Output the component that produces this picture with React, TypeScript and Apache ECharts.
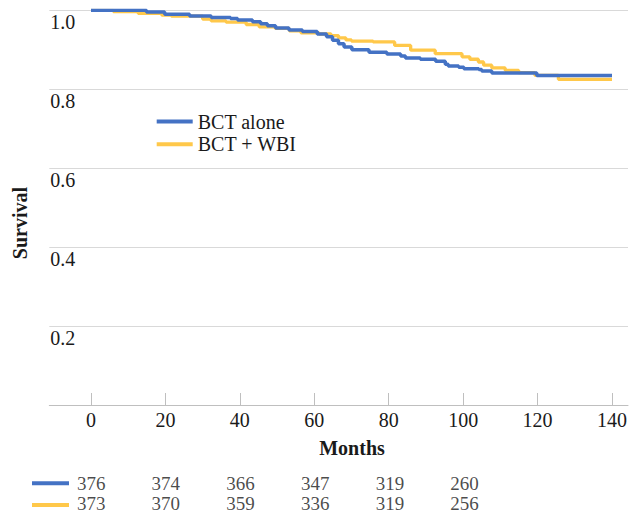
import React, { useEffect, useRef } from 'react';
import * as echarts from 'echarts';

const seriesNames = ['BCT alone', 'BCT + WBI'];

const blueMonths = [0, 14.9, 19.8, 26.5, 32.3, 37.5, 39.4, 43.4, 45.6, 47.4, 49.6, 53.2, 56.8, 60.8, 63.3, 64.9, 66.5, 68, 70.1, 74.7, 79.5, 83.2, 84.5, 88.5, 92.6, 95.2, 96, 98.8, 100.2, 104.2, 105, 107.7, 119.8, 140];
const blueSurvival = [1.0, 0.996, 0.99, 0.9856, 0.9815, 0.979, 0.9755, 0.971, 0.966, 0.961, 0.955, 0.95, 0.946, 0.94, 0.933, 0.924, 0.915, 0.907, 0.9, 0.894, 0.889, 0.884, 0.879, 0.876, 0.871, 0.863, 0.859, 0.856, 0.852, 0.85, 0.846, 0.841, 0.835, 0.835];

const yellowMonths = [0, 6, 12.7, 19, 21.6, 30, 32.3, 36.3, 41.7, 45.2, 49.5, 53.3, 56.4, 61.3, 64.5, 66.5, 68.5, 70, 75.8, 81.6, 85.9, 92.5, 99.7, 101.8, 104.1, 105.5, 107.7, 111.3, 114.9, 119.3, 125.6, 140];
const yellowSurvival = [1.0, 0.997, 0.992, 0.988, 0.985, 0.978, 0.973, 0.97, 0.964, 0.958, 0.954, 0.948, 0.943, 0.94, 0.936, 0.93, 0.925, 0.922, 0.92, 0.911, 0.899, 0.89, 0.882, 0.876, 0.869, 0.861, 0.854, 0.848, 0.842, 0.835, 0.825, 0.825];

const xTicks = [0, 20, 40, 60, 80, 100, 120, 140];

const riskMonths = [0, 20, 40, 60, 80, 100];
const riskBlue = [376, 374, 366, 347, 319, 260];
const riskYellow = [373, 370, 359, 336, 319, 256];

const BLUE = '#4472C4';
const YELLOW = '#FFC84A';
const FONT = 'Liberation Serif';
const TEXT = '#1a1a1a';

const X_MIN = -11.2;
const X_MAX = 144.3;

export default function App() {
  const ref = useRef<HTMLDivElement>(null);
  useEffect(() => {
    if (!ref.current) return;
    const chart = echarts.init(ref.current, undefined, { renderer: 'svg' });
    const blueData = blueMonths.map((m, i) => [m, blueSurvival[i]]);
    const yellowData = yellowMonths.map((m, i) => [m, yellowSurvival[i]]);
    const riskData = (vals: number[], row: number) =>
      riskMonths.map((m, i) => [m, row, vals[i]]);
    const riskLabel = {
      show: true,
      position: 'inside',
      formatter: (p: any) => String(p.value[2]),
      fontSize: 19,
      lineHeight: 19,
      fontFamily: FONT,
      color: TEXT,
    };

    chart.setOption({
      animation: false,
      backgroundColor: '#ffffff',
      textStyle: { fontFamily: FONT },
      grid: [
        { left: 49.3, right: 0, top: 10.3, height: 394.7 },
        { left: 49.3, right: 0, top: 473, height: 44 },
      ],
      xAxis: [
        {
          type: 'value',
          gridIndex: 0,
          min: X_MIN,
          max: X_MAX,
          splitLine: { show: false },
          axisLine: { show: true, lineStyle: { color: '#BFBFBF', width: 1 } },
          axisTick: {
            show: true,
            inside: true,
            length: 12,
            customValues: xTicks,
            lineStyle: { color: '#BFBFBF', width: 1 },
          },
          axisLabel: {
            show: true,
            customValues: xTicks,
            margin: 5,
            fontSize: 20,
            fontFamily: FONT,
            color: TEXT,
          },
        },
        {
          type: 'value',
          gridIndex: 1,
          min: X_MIN,
          max: X_MAX,
          show: false,
        },
      ],
      yAxis: [
        {
          type: 'value',
          gridIndex: 0,
          min: 0,
          max: 1,
          interval: 0.2,
          axisLine: { show: false },
          axisTick: { show: false },
          splitLine: { show: true, lineStyle: { color: '#D9D9D9', width: 1 } },
          axisLabel: {
            show: true,
            inside: true,
            margin: 1,
            verticalAlign: 'top',
            padding: [2, 0, 0, 0],
            showMinLabel: false,
            fontSize: 20,
            fontFamily: FONT,
            color: TEXT,
            formatter: (v: number) => v.toFixed(1),
          },
        },
        {
          type: 'value',
          gridIndex: 1,
          min: -0.5,
          max: 1.5,
          show: false,
        },
      ],
      legend: {
        data: seriesNames,
        orient: 'vertical',
        left: 151.7,
        top: 106.5,
        itemWidth: 36,
        itemHeight: 4,
        itemGap: 2.7,
        icon: 'rect',
        textStyle: { fontSize: 20, fontFamily: FONT, color: TEXT },
      },
      series: [
        {
          name: seriesNames[1],
          type: 'line',
          xAxisIndex: 0,
          yAxisIndex: 0,
          step: 'end',
          symbol: 'none',
          data: yellowData,
          lineStyle: { color: YELLOW, width: 3.3 },
          itemStyle: { color: YELLOW },
        },
        {
          name: seriesNames[0],
          type: 'line',
          xAxisIndex: 0,
          yAxisIndex: 0,
          step: 'end',
          symbol: 'none',
          data: blueData,
          lineStyle: { color: BLUE, width: 3.5 },
          itemStyle: { color: BLUE },
        },
        {
          type: 'scatter',
          xAxisIndex: 1,
          yAxisIndex: 1,
          symbolSize: 1,
          itemStyle: { color: 'transparent' },
          data: riskData(riskBlue, 1),
          label: riskLabel,
          silent: true,
        },
        {
          type: 'scatter',
          xAxisIndex: 1,
          yAxisIndex: 1,
          symbolSize: 1,
          itemStyle: { color: 'transparent' },
          data: riskData(riskYellow, 0),
          label: riskLabel,
          silent: true,
        },
      ],
      graphic: [
        {
          type: 'text',
          x: 20,
          y: 223,
          rotation: Math.PI / 2,
          style: {
            text: 'Survival',
            font: `bold 20px "${FONT}"`,
            fill: TEXT,
            align: 'center',
            verticalAlign: 'middle',
          },
        },
        {
          type: 'text',
          x: 352,
          y: 448,
          style: {
            text: 'Months',
            font: `bold 20px "${FONT}"`,
            fill: TEXT,
            align: 'center',
            verticalAlign: 'middle',
          },
        },
        {
          type: 'line',
          shape: { x1: 32, y1: 483.3, x2: 69, y2: 483.3 },
          style: { stroke: BLUE, lineWidth: 4 },
        },
        {
          type: 'line',
          shape: { x1: 32, y1: 505, x2: 69, y2: 505 },
          style: { stroke: YELLOW, lineWidth: 4 },
        },
      ],
    });
    return () => chart.dispose();
  }, []);
  return (
    <div
      ref={ref}
      style={{ position: 'fixed', left: 0, top: 0, width: 630, height: 513 }}
    />
  );
}
